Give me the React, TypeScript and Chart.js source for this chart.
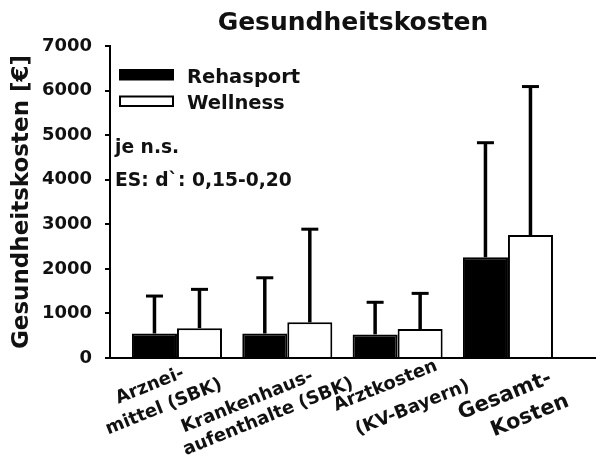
import React, { useEffect, useRef } from 'react';
import { Chart, registerables } from 'chart.js';

Chart.register(...registerables);

const chartTitle = 'Gesundheitskosten';
const yAxisTitle = 'Gesundheitskosten [€]';
const categories: string[][] = [
  ['Arznei-', 'mittel (SBK)'],
  ['Krankenhaus-', 'aufenthalte (SBK)'],
  ['Arztkosten', '(KV-Bayern)'],
  ['Gesamt-', 'Kosten'],
];
const seriesNames = ['Rehasport', 'Wellness'];
const rehasportMean = [550, 550, 530, 2260];
const rehasportSD = [840, 1250, 720, 2570];
const wellnessMean = [670, 800, 650, 2760];
const wellnessSD = [870, 2090, 800, 3330];
const yTickValues = [0, 1000, 2000, 3000, 4000, 5000, 6000, 7000];
const notes = ['je n.s.', 'ES: d`: 0,15-0,20'];

const FONT = "'DejaVu Sans'";
const TEXT = '#111';
const LABEL_ROTATION = -22;

// layout of the rotated category labels: line-centre offsets relative to the tick pixel / axis baseline
const labelLayout = [
  { size: 18, lines: [[-27, 28], [-13, 49]] },
  { size: 18, lines: [[-40, 44], [-19, 59]] },
  { size: 18, lines: [[-12, 28], [15, 50]] },
  { size: 21, lines: [[-3, 38], [22, 58]] },
];

const sdSets = [rehasportSD, wellnessSD];

const errorBarPlugin = {
  id: 'errorBars',
  afterDatasetsDraw(chart: any) {
    const { ctx } = chart;
    const y = chart.scales.y;
    chart.data.datasets.forEach((ds: any, d: number) => {
      const meta = chart.getDatasetMeta(d);
      const sd = sdSets[d];
      meta.data.forEach((bar: any, i: number) => {
        const mean = ds.data[i].y;
        const base = y.getPixelForValue(mean);
        const top = y.getPixelForValue(mean + sd[i]);
        ctx.save();
        ctx.strokeStyle = '#000';
        ctx.lineWidth = 3.5;
        ctx.beginPath();
        ctx.moveTo(bar.x, base);
        ctx.lineTo(bar.x, top);
        ctx.stroke();
        ctx.lineWidth = 3;
        ctx.beginPath();
        ctx.moveTo(bar.x - 8.5, top);
        ctx.lineTo(bar.x + 8.5, top);
        ctx.stroke();
        ctx.restore();
      });
    });
  },
};

const legendPlugin = {
  id: 'insideLegend',
  afterDraw(chart: any) {
    const { ctx, chartArea } = chart;
    chart.data.datasets.forEach((ds: any, i: number) => {
      const bx = chartArea.left + 10;
      const by = 70 + i * 26.5;
      ctx.save();
      ctx.fillStyle = ds.backgroundColor;
      ctx.fillRect(bx, by, 53, 9.5);
      ctx.strokeStyle = ds.borderColor;
      ctx.lineWidth = 2;
      ctx.strokeRect(bx, by, 53, 9.5);
      ctx.fillStyle = TEXT;
      ctx.font = `bold 19.5px ${FONT}`;
      ctx.textAlign = 'left';
      ctx.textBaseline = 'alphabetic';
      ctx.fillText(ds.label, bx + 67, by + 12.5);
      ctx.restore();
    });
  },
};

const notesPlugin = {
  id: 'notes',
  afterDraw(chart: any) {
    const { ctx, chartArea } = chart;
    ctx.save();
    ctx.fillStyle = TEXT;
    ctx.font = `bold 18.7px ${FONT}`;
    ctx.textAlign = 'left';
    ctx.textBaseline = 'alphabetic';
    notes.forEach((t, i) => {
      ctx.fillText(t, chartArea.left + 5, 153 + i * 32.5);
    });
    ctx.restore();
  },
};

const labelPlugin = {
  id: 'xLabels',
  afterDraw(chart: any) {
    const { ctx, chartArea } = chart;
    const x = chart.scales.x;
    categories.forEach((lines, i) => {
      const px = x.getPixelForValue(i);
      const lay = labelLayout[i];
      ctx.save();
      ctx.fillStyle = TEXT;
      ctx.font = `bold ${lay.size}px ${FONT}`;
      ctx.textAlign = 'center';
      ctx.textBaseline = 'middle';
      lines.forEach((t, j) => {
        const [dx, dy] = lay.lines[j];
        ctx.save();
        ctx.translate(px + dx, chartArea.bottom + dy);
        ctx.rotate((LABEL_ROTATION * Math.PI) / 180);
        ctx.fillText(t, 0, 0);
        ctx.restore();
      });
      ctx.restore();
    });
  },
};

export default function App() {
  const ref = useRef<HTMLCanvasElement | null>(null);

  useEffect(() => {
    document.body.style.margin = '0';
    if (!ref.current) return;
    const chart = new Chart(ref.current, {
      type: 'bar',
      data: {
        datasets: [
          {
            label: seriesNames[0],
            data: rehasportMean.map((v, i) => ({ x: i, y: v })),
            backgroundColor: '#000',
            borderColor: '#000',
            borderWidth: 2,
            categoryPercentage: 0.816,
            barPercentage: 1,
          },
          {
            label: seriesNames[1],
            data: wellnessMean.map((v, i) => ({ x: i, y: v })),
            backgroundColor: '#fff',
            borderColor: '#000',
            borderWidth: 2,
            categoryPercentage: 0.816,
            barPercentage: 1,
          },
        ] as any,
      },
      options: {
        responsive: false,
        animation: false,
        layout: { padding: 0 },
        plugins: {
          legend: { display: false },
          tooltip: { enabled: false },
          title: {
            display: true,
            text: chartTitle,
            fullSize: false,
            color: TEXT,
            font: { family: FONT, size: 25, weight: 'bold' },
            padding: { top: 8, bottom: 8 },
          },
        },
        scales: {
          x: {
            type: 'linear',
            offset: false,
            min: -0.607,
            max: 3.798,
            grid: { display: false, offset: false },
            ticks: { display: false },
            border: { display: true, color: '#000', width: 2 },
            afterBuildTicks: (s: any) => {
              s.ticks = categories.map((_, i) => ({ value: i }));
            },
            afterFit: (s: any) => {
              s.height = 108;
            },
          },
          y: {
            min: 0,
            max: 7000,
            afterBuildTicks: (s: any) => {
              s.ticks = yTickValues.map((v) => ({ value: v }));
            },
            ticks: {
              color: TEXT,
              font: { family: FONT, size: 18, weight: 'bold' },
              padding: 13,
              callback: (v: any) => String(v),
            },
            grid: { drawOnChartArea: false, drawTicks: true, tickLength: 5, color: '#000', lineWidth: 2 },
            border: { display: true, color: '#000', width: 2 },
            title: {
              display: true,
              text: yAxisTitle,
              color: TEXT,
              font: { family: FONT, size: 23, weight: 'bold' },
              padding: { top: 8.5, bottom: 0 },
            },
            afterFit: (s: any) => {
              s.width = 110;
            },
          },
        },
      } as any,
      plugins: [errorBarPlugin, legendPlugin, notesPlugin, labelPlugin],
    });
    return () => chart.destroy();
  }, []);

  return (
    <div style={{ width: 596, height: 466 }}>
      <canvas ref={ref} width={596} height={466} style={{ display: 'block' }} />
    </div>
  );
}
